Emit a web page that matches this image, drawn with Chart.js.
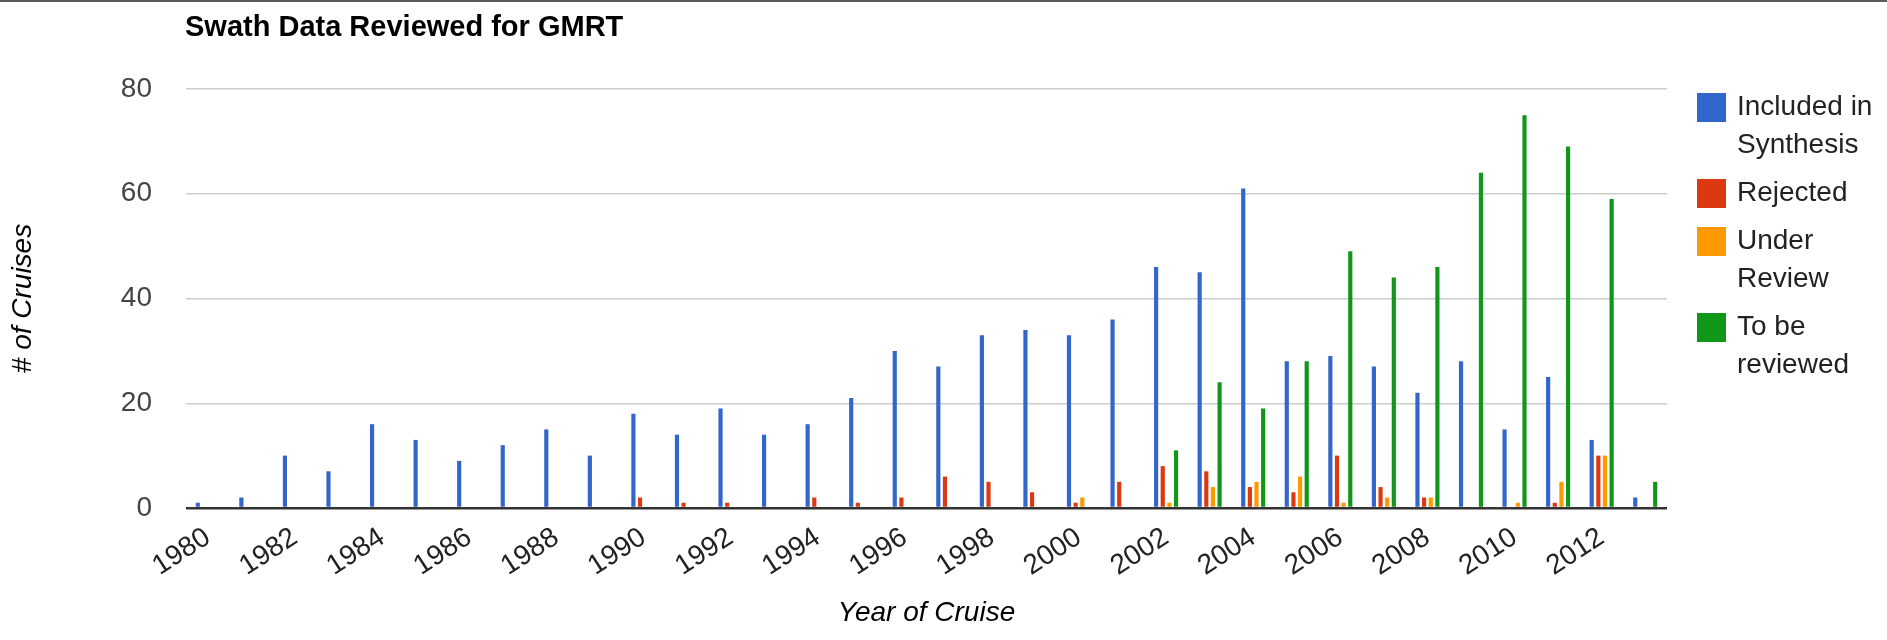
<!DOCTYPE html>
<html>
<head>
<meta charset="utf-8">
<script src="https://cdn.jsdelivr.net/npm/chart.js@4/dist/chart.umd.min.js"></script>
<style>
html,body{margin:0;padding:0;background:#fff;overflow:hidden}
#wrap{position:relative;width:1887px;height:640px}
#topline{position:absolute;left:0;top:0;width:1887px;height:2px;background:#5b5b5b}
canvas{display:block}
</style>
</head>
<body>
<div id="wrap"><canvas id="c" width="1887" height="640"></canvas><div id="topline"></div></div>
<script>
const chartTitle = 'Swath Data Reviewed for GMRT';
const xAxisTitle = 'Year of Cruise';
const yAxisTitle = '# of Cruises';

const years = ['1980','1981','1982','1983','1984','1985','1986','1987','1988','1989',
               '1990','1991','1992','1993','1994','1995','1996','1997','1998','1999',
               '2000','2001','2002','2003','2004','2005','2006','2007','2008','2009',
               '2010','2011','2012','2013'];

const seriesNames = ['Included in Synthesis', 'Rejected', 'Under Review', 'To be reviewed'];
const legendLines = [['Included in', 'Synthesis'], ['Rejected'], ['Under', 'Review'], ['To be', 'reviewed']];
const seriesColors = ['#3366cc', '#dc3912', '#ff9900', '#109618'];

const includedInSynthesis = [1, 2, 10, 7, 16, 13, 9, 12, 15, 10,
                             18, 14, 19, 14, 16, 21, 30, 27, 33, 34,
                             33, 36, 46, 45, 61, 28, 29, 27, 22, 28,
                             15, 25, 13, 2];
const rejected = [0, 0, 0, 0, 0, 0, 0, 0, 0, 0,
                  2, 1, 1, 0, 2, 1, 2, 6, 5, 3,
                  1, 5, 8, 7, 4, 3, 10, 4, 2, 0,
                  0, 1, 10, 0];
const underReview = [0, 0, 0, 0, 0, 0, 0, 0, 0, 0,
                     0, 0, 0, 0, 0, 0, 0, 0, 0, 0,
                     2, 0, 1, 4, 5, 6, 1, 2, 2, 0,
                     1, 5, 10, 0];
const toBeReviewed = [0, 0, 0, 0, 0, 0, 0, 0, 0, 0,
                      0, 0, 0, 0, 0, 0, 0, 0, 0, 0,
                      0, 0, 11, 24, 19, 28, 49, 44, 46, 64,
                      75, 69, 59, 5];

const yTicks = [0, 20, 40, 60, 80];

const FONT = '"Liberation Sans", Arial, Helvetica, sans-serif';
const seriesValues = [includedInSynthesis, rejected, underReview, toBeReviewed];

const decorPlugin = {
  id: 'decor',
  afterDraw(chart) {
    const ctx = chart.ctx;
    ctx.save();
    // title
    ctx.fillStyle = '#000';
    ctx.font = 'bold 29px ' + FONT;
    ctx.textAlign = 'left';
    ctx.textBaseline = 'alphabetic';
    ctx.fillText(chartTitle, 185, 36);
    // legend
    const boxX = 1697, boxSize = 29, textX = 1737;
    let y = 107;
    ctx.font = '28px ' + FONT;
    ctx.textBaseline = 'middle';
    chart.data.datasets.forEach((ds, i) => {
      ctx.fillStyle = ds.backgroundColor;
      ctx.fillRect(boxX, Math.round(y - boxSize / 2), boxSize, boxSize);
      ctx.fillStyle = '#222';
      const lines = legendLines[i];
      lines.forEach((ln, j) => {
        ctx.fillText(ln, textX, y + j * 38);
      });
      y += (lines.length - 1) * 38 + 48;
    });
    ctx.restore();
  }
};

new Chart(document.getElementById('c'), {
  type: 'bar',
  data: {
    labels: years,
    datasets: seriesNames.map((name, i) => ({
      label: name,
      data: seriesValues[i],
      backgroundColor: seriesColors[i],
      borderWidth: 0,
      categoryPercentage: 0.61,
      barPercentage: 0.63
    }))
  },
  options: {
    responsive: false,
    animation: false,
    devicePixelRatio: 1,
    layout: { padding: { top: 89, right: 220, bottom: 0, left: 0 } },
    plugins: {
      legend: { display: false },
      title: { display: false },
      tooltip: { enabled: false }
    },
    scales: {
      x: {
        afterFit(scale) { scale.height = 132; },
        grid: { display: false, drawTicks: false },
        border: { display: false },
        ticks: {
          autoSkip: false,
          maxRotation: 33,
          minRotation: 33,
          padding: 13,
          color: '#222',
          font: { family: FONT, size: 28 },
          callback: function (val, idx) { return idx % 2 === 0 ? this.getLabelForValue(val) : ''; }
        },
        title: {
          display: true,
          text: xAxisTitle,
          color: '#000',
          font: { family: FONT, size: 28, style: 'italic' },
          padding: { top: 0, bottom: 10 }
        }
      },
      y: {
        min: 0,
        max: 80,
        afterFit(scale) { scale.width = 186; },
        afterBuildTicks(scale) { scale.ticks = yTicks.map(v => ({ value: v })); },
        grid: {
          drawTicks: false,
          color: ctx => ctx.tick && ctx.tick.value === 0 ? '#333333' : '#cccccc',
          lineWidth: ctx => ctx.tick && ctx.tick.value === 0 ? 2.5 : 1.5
        },
        border: { display: false },
        ticks: {
          padding: 34,
          color: '#444',
          font: { family: FONT, size: 28 }
        },
        title: {
          display: true,
          text: yAxisTitle,
          color: '#000',
          font: { family: FONT, size: 28, style: 'italic' },
          padding: { top: 6, bottom: 0 }
        }
      }
    }
  },
  plugins: [decorPlugin]
});
</script>
</body>
</html>
